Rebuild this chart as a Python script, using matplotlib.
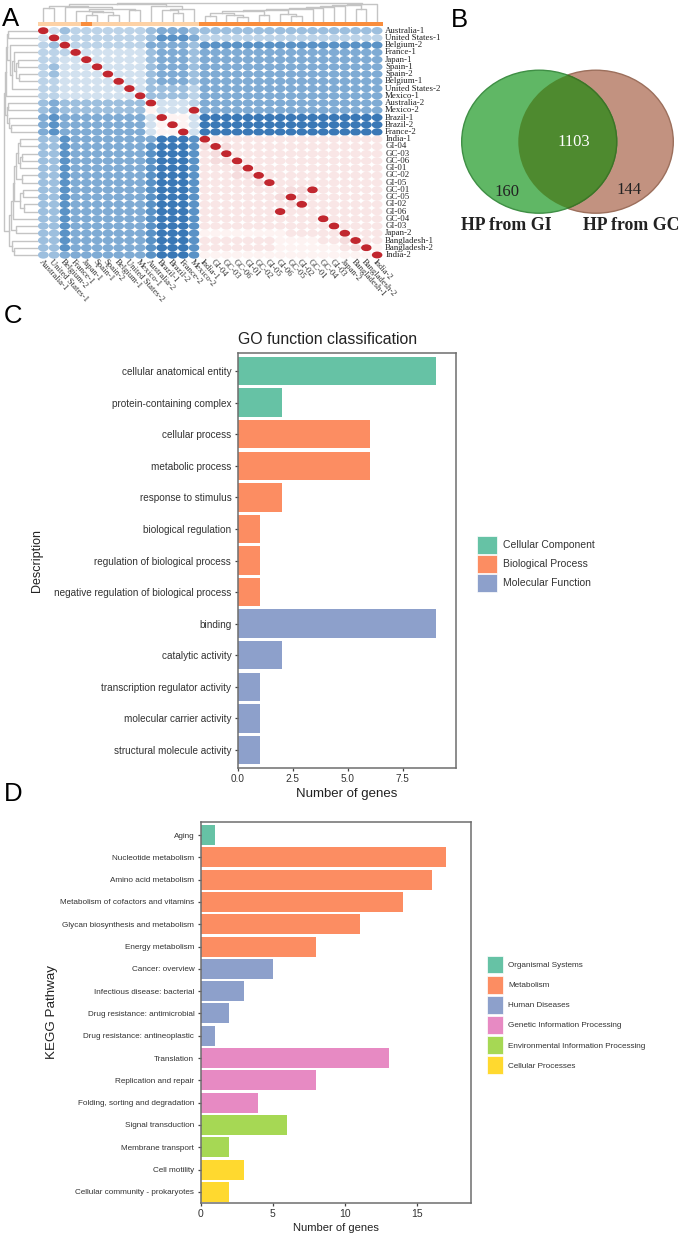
import matplotlib
matplotlib.use("Agg")
import matplotlib.pyplot as plt
from matplotlib.patches import Ellipse, Patch
from matplotlib.collections import PatchCollection

W, H = 685, 1237
plt.rcParams['font.family'] = ['Liberation Sans', 'DejaVu Sans']

# panel A - labels and similarity levels
row_labels = ['Australia-1', 'United States-1', 'Belgium-2', 'France-1', 'Japan-1', 'Spain-1', 'Spain-2',
              'Belgium-1', 'United States-2', 'Mexico-1', 'Australia-2', 'Mexico-2', 'Brazil-1', 'Brazil-2',
              'France-2', 'India-1', 'GI-04', 'GC-03', 'GC-06', 'GI-01', 'GC-02', 'GI-05', 'GC-01', 'GC-05',
              'GI-02', 'GI-06', 'GC-04', 'GI-03', 'Japan-2', 'Bangladesh-1', 'Bangladesh-2', 'India-2']
col_labels = ['Australia-1', 'United States-1', 'Belgium-2', 'France-1', 'Japan-1', 'Spain-1', 'Spain-2',
              'Belgium-1', 'United States-2', 'Mexico-1', 'Australia-2', 'Brazil-1', 'Brazil-2', 'France-2',
              'Mexico-2', 'India-1', 'GI-04', 'GC-03', 'GC-06', 'GI-01', 'GC-02', 'GI-05', 'GI-06', 'GC-05',
              'GI-02', 'GC-01', 'GC-04', 'GI-03', 'Japan-2', 'Bangladesh-1', 'Bangladesh-2', 'India-2']
# one hex digit per cell: 1 dark blue ... 6 pale blue, 7-9 white to pink, a = red
level_rows = [
    "a645555555 43334 44444444444444444",
    "6a55555555 42223 55555555555555555",
    "54a5555555 33334 22222222222222222",
    "555a666666 43334 33333333333333333",
    "5566a66666 43334 33333333333333333",
    "54666a6666 43334 33333333333333333",
    "546666a666 43334 33333333333333333",
    "5566666a66 43334 33333333333333333",
    "55666666a6 44445 33333333333333333",
    "556666666a 44445 33333333333333333",
    "4344444444 a6665 33333333333333333",
    "4344444444 7666a 33333333333333333",
    "3233333333 6a776 11111111111111111",
    "3233333333 67a76 11111111111111111",
    "3233333333 677a6 11111111111111111",
    "4423333333 31112 a8888888888888888",
    "4423333333 21112 9a988888888888888",
    "4423333333 21112 89a88888888888888",
    "4423333333 21112 899a8888888888888",
    "4423333333 21112 8889a888888888888",
    "4423333333 21112 88899a88888888888",
    "4423333333 21112 888889a8888888888",
    "4423333333 21112 8888888899a888888",
    "4423333333 21112 88888889a98888888",
    "4423333333 21112 888888889a8888888",
    "4423333333 21112 8888888a888888888",
    "4423333333 21112 88888888888a88888",
    "4423333333 21112 888888888888a8888",
    "4423333333 21112 7777777788888a888",
    "4423333333 21112 88888887777889a88",
    "4423333333 21112 888888877777789a7",
    "4433333333 21112 7777777777777777a",
]
level_colors = {'1': '#3a78b6', '2': '#5a92c6', '3': '#7fabd4', '4': '#9dbfde', '5': '#bcd3e8', '6': '#d2e1ef',
                '7': '#fdf3f2', '8': '#f9e6e6', '9': '#f5dcdd', 'a': '#c1272f'}
dark_annotation_cols = [4] + list(range(15, 32))

# dendrograms as merges (left, right, height in px)
top_a = ((0, 1, 14), (2, ((3, ((4, 5, 7), (6, 7, 7), 10), 11), (8, 9, 12), 13), 15), 16)
top_b = (10, ((11, (12, 13, 9), 12), 14, 13), 16)
top_c = (((15, 16, 6), (17, (18, 19, 5), 7), 9), (20, 21, 7), 11)
top_c = (top_c, (22, (23, 24, 6), 8), 12)
top_c = (top_c, 25, 13)
top_c = (top_c, 26, 14)
top_c = (top_c, 27, 15)
top_c = (top_c, 28, 16)
top_c = (top_c, (29, 30, 13), 17)
top_c = (top_c, 31, 18)
top_tree = ((top_a, top_b, 18), top_c, 19)

left_a = ((0, 1, 30), (2, ((3, ((4, 5, 20), (6, 7, 19), 22), 24), 8, 26), 28), 31)
left_a = (left_a, 9, 32)
left_b = ((10, 11, 30), (12, (13, 14, 27), 29), 31)
left_c = ((15, 16, 18), ((17, 18, 16), 19, 18), 20)
left_c = (left_c, (20, 21, 16), 22)
left_c = (left_c, ((22, 23, 15), (24, 25, 14), 18), 24)
left_c = (left_c, 26, 25)
left_c = (left_c, (27, 28, 22), 27)
left_c = (left_c, (29, (30, 31, 24), 26), 29)
left_tree = ((left_a, left_b, 33), left_c, 34)

# panel B
venn_left_only = 160
venn_overlap = 1103
venn_right_only = 144

# panel C
go_terms = ['cellular anatomical entity', 'protein-containing complex', 'cellular process', 'metabolic process',
            'response to stimulus', 'biological regulation', 'regulation of biological process',
            'negative regulation of biological process', 'binding', 'catalytic activity',
            'transcription regulator activity', 'molecular carrier activity', 'structural molecule activity']
go_counts = [9, 2, 6, 6, 2, 1, 1, 1, 9, 2, 1, 1, 1]
go_groups = [0, 0, 1, 1, 1, 1, 1, 1, 2, 2, 2, 2, 2]
go_group_names = ['Cellular Component', 'Biological Process', 'Molecular Function']

# panel D
kegg_terms = ['Aging', 'Nucleotide metabolism', 'Amino acid metabolism', 'Metabolism of cofactors and vitamins',
              'Glycan biosynthesis and metabolism', 'Energy metabolism', 'Cancer: overview',
              'Infectious disease: bacterial', 'Drug resistance: antimicrobial', 'Drug resistance: antineoplastic',
              'Translation', 'Replication and repair', 'Folding, sorting and degradation', 'Signal transduction',
              'Membrane transport', 'Cell motility', 'Cellular community - prokaryotes']
kegg_counts = [1, 17, 16, 14, 11, 8, 5, 3, 2, 1, 13, 8, 4, 6, 2, 3, 2]
kegg_groups = [0, 1, 1, 1, 1, 1, 2, 2, 2, 2, 3, 3, 3, 4, 4, 5, 5]
kegg_group_names = ['Organismal Systems', 'Metabolism', 'Human Diseases', 'Genetic Information Processing',
                    'Environmental Information Processing', 'Cellular Processes']
set2 = ['#66c2a5', '#fc8d62', '#8da0cb', '#e78ac3', '#a6d854', '#ffd92f']


def axes_px(left, top, right, bottom):
    return fig.add_axes([left / W, 1 - bottom / H, (right - left) / W, (bottom - top) / H])


def draw_tree(ax, node, vertical):
    # returns leaf-axis position and height of the node
    if isinstance(node, int):
        return node, 0
    a, ha = draw_tree(ax, node[0], vertical)
    b, hb = draw_tree(ax, node[1], vertical)
    h = node[2]
    xs, ys = [a, a, b, b], [ha, h, h, hb]
    if vertical:
        ax.plot(xs, ys, color='#c4c4c4', lw=1)
    else:
        ax.plot(ys, xs, color='#c4c4c4', lw=1)
    return (a + b) / 2, h


fig = plt.figure(figsize=(W / 100, H / 100), dpi=100)

# ---------- A
ax = axes_px(37.9, 27.1, 382.5, 258.6)
ax.set_xlim(-0.5, 31.5)
ax.set_ylim(31.5, -0.5)
ax.axis('off')
patches, colors = [], []
for r, row in enumerate(level_rows):
    for c, lev in enumerate(row.replace(' ', '')):
        red = lev == 'a'
        patches.append(Ellipse((c, r), 0.98 if red else 1.0, 0.95 if red else 1.02))
        colors.append(level_colors[lev])
ax.add_collection(PatchCollection(patches, facecolors=colors, edgecolors='none'))
for r, lab in enumerate(row_labels):
    ax.text(31.75, r, lab, family='Liberation Serif', fontsize=6.4, va='center', ha='left', color='#222222',
            clip_on=False)
for c, lab in enumerate(col_labels):
    ax.text(c - 0.3, 31.8, lab, family='Liberation Serif', fontsize=6.2, rotation=-48, rotation_mode='anchor',
            va='center', ha='left', color='#333333', clip_on=False)

ann = axes_px(37.9, 22, 382.5, 26)
ann.set_xlim(-0.5, 31.5)
ann.set_ylim(0, 1)
ann.axis('off')
ann.bar(range(32), [1] * 32, width=1.0,
        color=['#f98d3c' if c in dark_annotation_cols else '#fdd2a6' for c in range(32)])

top = axes_px(37.9, 2, 382.5, 22)
top.set_xlim(-0.5, 31.5)
top.set_ylim(0, 20)
top.axis('off')
draw_tree(top, top_tree, True)

left = axes_px(3, 27.1, 38, 258.6)
left.set_ylim(31.5, -0.5)
left.set_xlim(35, 0)
left.axis('off')
draw_tree(left, left_tree, False)

# ---------- B
venn = axes_px(440, 0, 685, 250)
venn.set_xlim(440, 685)
venn.set_ylim(250, 0)
venn.axis('off')
right_e = Ellipse((595.8, 141.7), 155, 143, fc='#c29280', ec='#9c6f5c', lw=1)
left_e = Ellipse((539.2, 141.7), 155, 143, fc='#60b765', ec='#3f8f45', lw=1)
venn.add_patch(right_e)
venn.add_patch(left_e)
mid = Ellipse((539.2, 141.7), 155, 143, fc='#4e8a2f', ec='#3d7426', lw=1)
venn.add_patch(mid)
mid.set_clip_path(Ellipse((595.8, 141.7), 155, 143, transform=venn.transData))
serif = dict(family='Liberation Serif', ha='center', va='center')
venn.text(574, 142, str(venn_overlap), color='white', fontsize=12, **serif)
venn.text(507, 192.5, str(venn_left_only), color='#222222', fontsize=12, **serif)
venn.text(629, 190.5, str(venn_right_only), color='#222222', fontsize=12, **serif)
venn.text(506.5, 225.5, 'HP from GI', color='#222222', fontsize=12.8, fontweight='bold', **serif)
venn.text(631, 225.5, 'HP from GC', color='#222222', fontsize=12.8, fontweight='bold', **serif)


# ---------- C and D
def bar_panel(box, terms, counts, groups, xmax, ylim, ticks, ticklabels, y_size, x_size, lab_size, y_lab_size,
              xlabel, ylabel):
    a = axes_px(*box)
    a.barh(range(len(terms)), counts, height=0.9, color=[set2[g] for g in groups])
    a.set_xlim(0, xmax)
    a.set_ylim(*ylim)
    a.set_yticks(range(len(terms)))
    a.set_yticklabels(terms, fontsize=y_size, color='#333333')
    a.set_xticks(ticks)
    a.set_xticklabels(ticklabels, fontsize=x_size, color='#333333')
    a.tick_params(length=2.5, width=0.9, color='#444444', pad=2)
    a.set_xlabel(xlabel, fontsize=lab_size, labelpad=3, color='#222222')
    a.set_ylabel(ylabel, fontsize=y_lab_size, color='#222222')
    for s in a.spines.values():
        s.set_color('#6e6e6e')
        s.set_linewidth(1.1)
    return a


c_ax = bar_panel((237.5, 352.7, 455.7, 768), go_terms, go_counts, go_groups, 9.9, (12.57, -0.58),
                 [0, 2.5, 5, 7.5], ['0.0', '2.5', '5.0', '7.5'], 7.2, 7.2, 9.5, 9, 'Number of genes', 'Description')
c_ax.set_title('GO function classification', fontsize=11.4, pad=6, color='#222222', loc='left')
c_ax.yaxis.set_label_coords((43 - 237.5) / 218.2, 0.5)

d_ax = bar_panel((200.5, 821.7, 471, 1203), kegg_terms, kegg_counts, kegg_groups, 18.7, (16.5, -0.6),
                 [0, 5, 10, 15], ['0', '5', '10', '15'], 5.9, 7.5, 8, 9.6, 'Number of genes', 'KEGG Pathway')
d_ax.yaxis.set_label_coords((58 - 200.5) / 270.5, 0.5)

c_handles = [Patch(fc=set2[i], ec='white', lw=0.5) for i in range(3)]
fig.legend(c_handles, go_group_names, loc='upper left', bbox_to_anchor=(476.5 / W, 1 - 536 / H), frameon=False,
           fontsize=7.5, borderpad=0, borderaxespad=0, handlelength=1.92, handleheight=2.35, labelspacing=0.05,
           handletextpad=0.58, labelcolor='#333333')
d_handles = [Patch(fc=set2[i], ec='white', lw=0.5) for i in range(6)]
fig.legend(d_handles, kegg_group_names, loc='upper left', bbox_to_anchor=(487 / W, 1 - 955.5 / H), frameon=False,
           fontsize=5.9, borderpad=0, borderaxespad=0, handlelength=1.92, handleheight=3.0, labelspacing=0.27,
           handletextpad=0.7, labelcolor='#333333')

# panel letters
for letter, x, y in [('A', 2, 19), ('B', 451, 20), ('C', 4, 316), ('D', 4, 794)]:
    fig.text(x / W, 1 - y / H, letter, fontsize=18.5, va='center', ha='left', color='black')

fig.savefig('out.png', dpi=100)
